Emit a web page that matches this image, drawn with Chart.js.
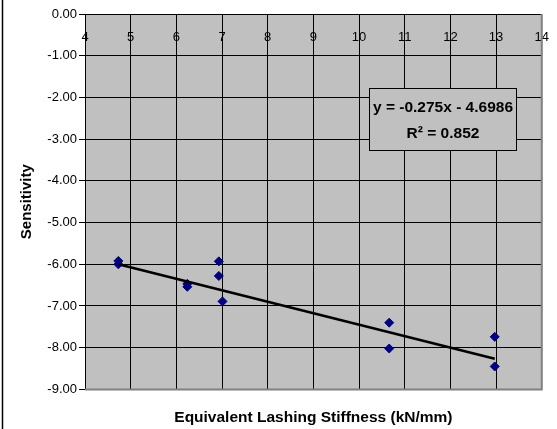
<!DOCTYPE html>
<html>
<head>
<meta charset="utf-8">
<script src="https://cdn.jsdelivr.net/npm/chart.js@4/dist/chart.umd.min.js"></script>
<style>
  html, body { margin: 0; padding: 0; background: #ffffff; }
  #wrap { width: 557px; height: 429px; position: relative; }
</style>
</head>
<body>
<div id="wrap"><canvas id="c" width="557" height="429"></canvas></div>
<script>
// ---- data ----
const stiffness   = [4.73, 4.73, 6.24, 6.24, 6.93, 6.93, 7.01, 10.66, 10.66, 12.97, 12.97];
const sensitivity = [-5.92, -6.00, -6.47, -6.54, -5.93, -6.28, -6.89, -7.40, -8.02, -7.74, -8.45];
const trendSlope = -0.275;
const trendIntercept = -4.6986;
const equationLines = ['y = -0.275x - 4.6986', 'R\u00B2 = 0.852'];
const xTitle = 'Equivalent Lashing Stiffness (kN/mm)';
const yTitle = 'Sensitivity';

const FONT = "'Liberation Sans', Arial, sans-serif";
Chart.defaults.font.family = FONT;
Chart.defaults.color = '#000000';

const points = stiffness.map((x, i) => ({ x: x, y: sensitivity[i] }));
const xMin = Math.min(...stiffness), xMax = Math.max(...stiffness);
const trend = [xMin, xMax].map(x => ({ x: x, y: trendSlope * x + trendIntercept }));

const decor = {
  id: 'decor',
  beforeDraw(chart) {
    const { ctx, chartArea: a } = chart;
    ctx.save();
    ctx.fillStyle = '#C0C0C0';
    ctx.fillRect(a.left, a.top, a.right - a.left, a.bottom - a.top);
    ctx.restore();
  },
  afterDraw(chart) {
    const { ctx, chartArea: a } = chart;
    ctx.save();
    // grey plot-area edges (right & bottom)
    ctx.strokeStyle = '#808080';
    ctx.lineWidth = 2;
    ctx.beginPath();
    ctx.moveTo(a.right, a.top);
    ctx.lineTo(a.right, a.bottom);
    ctx.lineTo(a.left, a.bottom);
    ctx.stroke();
    // outer left border line
    ctx.strokeStyle = '#000000';
    ctx.lineWidth = 1.5;
    ctx.beginPath();
    ctx.moveTo(2.5, 0);
    ctx.lineTo(2.5, 429);
    ctx.stroke();
    // equation box
    const bx = 369.5, by = 88.5, bw = 147, bh = 62;
    ctx.fillStyle = '#C0C0C0';
    ctx.fillRect(bx, by, bw, bh);
    ctx.strokeStyle = '#000000';
    ctx.lineWidth = 1;
    ctx.strokeRect(bx, by, bw, bh);
    ctx.fillStyle = '#000000';
    ctx.font = 'bold 15.5px ' + FONT;
    ctx.textAlign = 'center';
    ctx.textBaseline = 'middle';
    ctx.fillText(equationLines[0], bx + bw / 2, by + 19);
    ctx.fillText(equationLines[1], bx + bw / 2, by + 45);
    ctx.restore();
  }
};

new Chart(document.getElementById('c'), {
  type: 'scatter',
  data: {
    datasets: [
      {
        type: 'line',
        data: trend,
        borderColor: '#000000',
        borderWidth: 2.5,
        pointRadius: 0,
        fill: false,
        order: 0
      },
      {
        data: points,
        pointStyle: 'rectRot',
        pointRadius: 4.5,
        pointBackgroundColor: '#000080',
        pointBorderColor: '#000080',
        pointBorderWidth: 1,
        order: 1
      }
    ]
  },
  options: {
    responsive: false,
    animation: false,
    devicePixelRatio: 1,
    layout: { padding: { left: 0, right: 14, top: 14, bottom: 0 } },
    plugins: {
      legend: { display: false },
      tooltip: { enabled: false },
      title: {
        display: true,
        position: 'bottom',
        fullSize: false,
        text: xTitle,
        color: '#000000',
        font: { size: 15.5, weight: 'bold', family: FONT },
        padding: { top: 19.2, bottom: 1.8 }
      }
    },
    scales: {
      x: {
        type: 'linear',
        position: { y: 0 },
        min: 4,
        max: 14,
        ticks: { stepSize: 1, color: '#000000', font: { size: 13 }, padding: 8, maxRotation: 0, autoSkip: false },
        grid: { color: '#000000', lineWidth: 1, tickLength: 8, drawTicks: true },
        border: { display: true, color: '#000000', width: 1 }
      },
      y: {
        type: 'linear',
        position: 'left',
        min: -9,
        max: 0,
        ticks: {
          stepSize: 1,
          color: '#000000',
          font: { size: 13 },
          padding: 2,
          callback: v => Number(v).toFixed(2)
        },
        grid: { color: '#000000', lineWidth: 1, tickLength: 6, drawTicks: true },
        border: { display: true, color: '#000000', width: 1 },
        title: {
          display: true,
          text: yTitle,
          color: '#000000',
          font: { size: 15, weight: 'bold', family: FONT },
          padding: { top: 18, bottom: 0 }
        },
        afterFit(scale) { scale.width = 85; }
      }
    }
  },
  plugins: [decor]
});
</script>
</body>
</html>
